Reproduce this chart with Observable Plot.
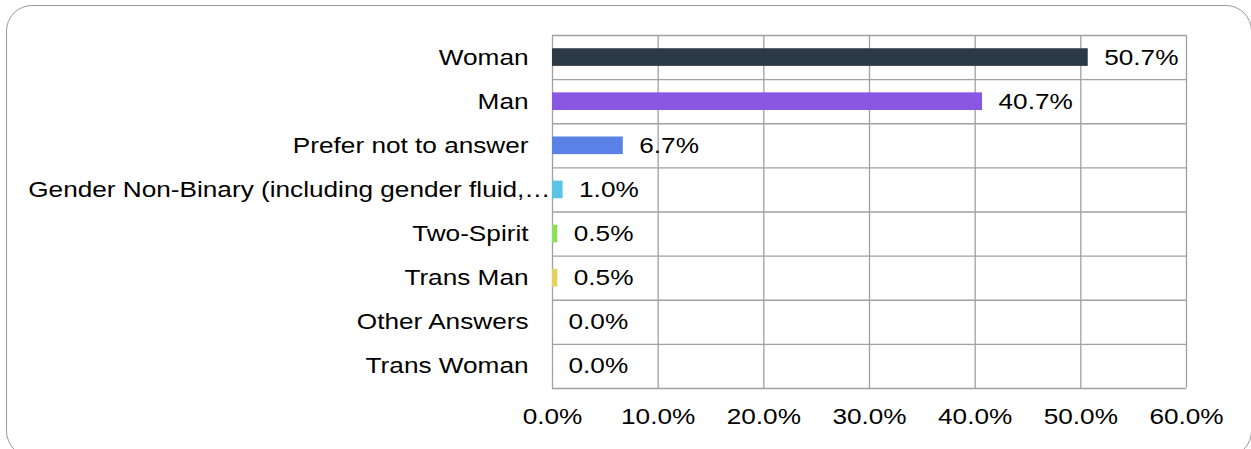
<!DOCTYPE html>
<html><head><meta charset="utf-8">
<script src="https://cdn.jsdelivr.net/npm/d3@7"></script>
<script src="https://cdn.jsdelivr.net/npm/@observablehq/plot@0.6"></script>
<style>
body{margin:0;background:#fff;}
#wrap{position:relative;width:1251px;height:449px;overflow:hidden;}
#border{position:absolute;left:6px;top:5px;width:1246px;height:452px;border:1.5px solid #9a9a9a;border-radius:26px;box-sizing:border-box;}
#chart{position:absolute;left:0;top:0;}
</style></head><body><div id="wrap"><div id="border"></div><div id="chart"></div></div>
<script>
const categories = ["Woman","Man","Prefer not to answer","Gender Non-Binary (including gender fluid,\u2026","Two-Spirit","Trans Man","Other Answers","Trans Woman"];
const values = [50.7,40.7,6.7,1.0,0.5,0.5,0.0,0.0];
const colors = ["#2c3a46","#8a57e3","#5a82e6","#5bc3e6","#8de05a","#e6d25a","#cccccc","#cccccc"];
const xTicks = [0,10,20,30,40,50,60];
const rowEdges = [0,1,2,3,4,5,6,7,8];
const longLabelIndex = 3;

const data = categories.map((c,i)=>({category:c, value:values[i], color:colors[i], i}));
const font = "'Liberation Sans', Arial, sans-serif";
const yCenters = categories.map((c,i)=>i+0.5);
const labelOf = v => categories[Math.round(v-0.5)];
const chart = Plot.plot({
  width:1251, height:449,
  marginLeft:552, marginRight:65, marginTop:35, marginBottom:61,
  x:{type:"linear", domain:[0,60]},
  y:{type:"linear", domain:[0,8], reverse:true},
  style:{fontFamily:font, fontSize:"22px", color:"#000", background:"transparent", overflow:"visible"},
  marks:[
    Plot.ruleX(xTicks, {stroke:"#a0a0a0", strokeWidth:1.3}),
    Plot.ruleY(rowEdges, {stroke:"#a0a0a0", strokeWidth:1.3}),
    Plot.rect(data, {x1:0, x2:"value", y1:d=>d.i+0.3, y2:d=>d.i+0.7, fill:"color"}),
    Plot.text(data, {x:"value", y:d=>d.i+0.5, text:d=>d.value.toFixed(1)+"%", dx:16, textAnchor:"start", fontSize:22, fill:"#000"}),
    Plot.axisY(yCenters.filter((v,i)=>i!==longLabelIndex), {tickFormat:labelOf, tickSize:0, tickPadding:24, fontSize:22, label:null}),
    Plot.axisY([yCenters[longLabelIndex]], {tickFormat:labelOf, tickSize:0, tickPadding:2, fontSize:22, label:null}),
    Plot.axisX(xTicks, {tickFormat:d=>d.toFixed(1)+"%", tickSize:0, tickPadding:20, fontSize:22, label:null})
  ]
});
// the reference's lettering is horizontally widened; stretch each text about its anchor
chart.querySelectorAll("text").forEach(t => {
  const tr = t.getAttribute("transform");
  if (tr) t.setAttribute("transform", tr + " scale(1.19,1)");
});
document.getElementById("chart").appendChild(chart);
</script></body></html>
